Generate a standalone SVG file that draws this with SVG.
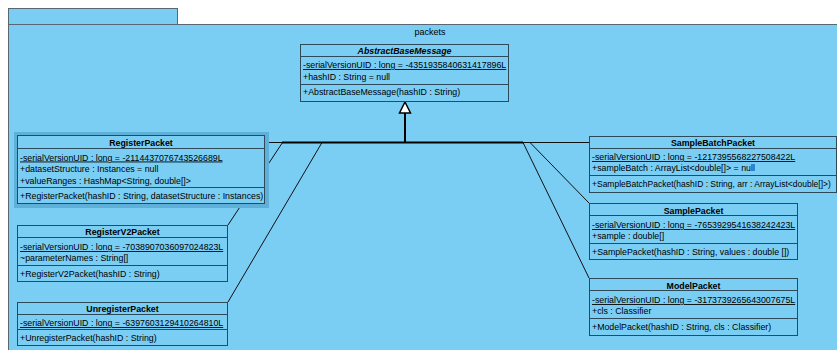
<svg xmlns="http://www.w3.org/2000/svg" width="837" height="350" viewBox="0 0 837 350">
<style>
text{font-family:"Liberation Sans",Arial,sans-serif;font-size:8.8px;fill:#000}
.t{font-weight:bold;text-anchor:middle}
.ti{font-weight:bold;font-style:italic;text-anchor:middle}
.u{text-decoration:underline}
.box{fill:#7acef4;stroke:#2e4a5a;stroke-width:1}
.sep{stroke:#2e4a5a;stroke-width:1}
.pkg{fill:#7acef4;stroke:#5a6670;stroke-width:1}
.thin{stroke:#111;stroke-width:1;fill:none}
.thick{stroke:#000;stroke-width:2;fill:none}
</style>
<g id="package-packets">
<rect class="pkg" x="8.5" y="8.5" width="169" height="16"/>
<rect class="pkg" x="8.5" y="24.5" width="840" height="340"/>
<text x="430" y="35" style="text-anchor:middle;font-size:9px">packets</text>
</g>
<g id="connectors">
<line class="thin" x1="265" y1="142.5" x2="283" y2="142.5"/>
<line class="thin" x1="282.5" y1="142.5" x2="228" y2="225"/>
<line class="thin" x1="322" y1="142.5" x2="228" y2="302"/>
<line class="thin" x1="523" y1="142.5" x2="589" y2="142.5"/>
<line class="thin" x1="530" y1="142.5" x2="589" y2="203"/>
<line class="thin" x1="523" y1="142.5" x2="589" y2="278"/>
<line class="thick" x1="282" y1="142.5" x2="523" y2="142.5"/>
<line class="thick" x1="405" y1="142.5" x2="405" y2="113"/>
<path d="M405,102 L410.5,113 L399.5,113 Z" fill="#fff" stroke="#000" stroke-width="1.5"/>
</g>
<g id="AbstractBaseMessage">
<rect class="box" x="300.5" y="44.5" width="208" height="57"/>
<line class="sep" x1="300.5" y1="56.5" x2="508.5" y2="56.5"/>
<line class="sep" x1="300.5" y1="84.5" x2="508.5" y2="84.5"/>
<text class="ti" x="404.5" y="54">AbstractBaseMessage</text>
<text class="u" x="303" y="68">-serialVersionUID : long = -4351935840631417896L</text>
<text x="303" y="80">+hashID : String = null</text>
<text x="303" y="95">+AbstractBaseMessage(hashID : String)</text>
</g>
<g id="RegisterPacket">
<rect x="14" y="132" width="255" height="76" fill="#5fb0d9"/>
<rect class="box" x="17.5" y="135.5" width="247" height="68"/>
<line class="sep" x1="17.5" y1="148.5" x2="264.5" y2="148.5"/>
<line class="sep" x1="17.5" y1="187.5" x2="264.5" y2="187.5"/>
<text class="t" x="141" y="145.5">RegisterPacket</text>
<text class="u" x="20" y="160.5">-serialVersionUID : long = -2114437076743526689L</text>
<text x="20" y="171.5">+datasetStructure : Instances = null</text>
<text x="20" y="183.5">+valueRanges : HashMap&lt;String, double[]&gt;</text>
<text x="20" y="199">+RegisterPacket(hashID : String, datasetStructure : Instances)</text>
</g>
<g id="RegisterV2Packet">
<rect class="box" x="17.5" y="225.5" width="210" height="56"/>
<line class="sep" x1="17.5" y1="237.5" x2="227.5" y2="237.5"/>
<line class="sep" x1="17.5" y1="265.5" x2="227.5" y2="265.5"/>
<text class="t" x="122.5" y="234.5">RegisterV2Packet</text>
<text class="u" x="20" y="250">-serialVersionUID : long = -7038907036097024823L</text>
<text x="20" y="261">~parameterNames : String[]</text>
<text x="20" y="276.5">+RegisterV2Packet(hashID : String)</text>
</g>
<g id="UnregisterPacket">
<rect class="box" x="17.5" y="302.5" width="210" height="43"/>
<line class="sep" x1="17.5" y1="314.5" x2="227.5" y2="314.5"/>
<line class="sep" x1="17.5" y1="329.5" x2="227.5" y2="329.5"/>
<text class="t" x="122.5" y="311.5">UnregisterPacket</text>
<text class="u" x="20" y="326">-serialVersionUID : long = -6397603129410264810L</text>
<text x="20" y="340.5">+UnregisterPacket(hashID : String)</text>
</g>
<g id="SampleBatchPacket">
<rect class="box" x="589.5" y="136.5" width="247" height="56"/>
<line class="sep" x1="589.5" y1="148.5" x2="836.5" y2="148.5"/>
<line class="sep" x1="589.5" y1="175.5" x2="836.5" y2="175.5"/>
<text class="t" x="713" y="145.5">SampleBatchPacket</text>
<text class="u" x="592" y="160">-serialVersionUID : long = -1217395568227508422L</text>
<text x="592" y="171">+sampleBatch : ArrayList&lt;double[]&gt; = null</text>
<text x="592" y="187" style="font-size:8.5px">+SampleBatchPacket(hashID : String, arr : ArrayList&lt;double[]&gt;)</text>
</g>
<g id="SamplePacket">
<rect class="box" x="589.5" y="203.5" width="208" height="56"/>
<line class="sep" x1="589.5" y1="215.5" x2="797.5" y2="215.5"/>
<line class="sep" x1="589.5" y1="243.5" x2="797.5" y2="243.5"/>
<text class="t" x="693.5" y="213.5">SamplePacket</text>
<text class="u" x="592" y="228">-serialVersionUID : long = -7653929541638242423L</text>
<text x="592" y="239">+sample : double[]</text>
<text x="592" y="254.5">+SamplePacket(hashID : String, values : double [])</text>
</g>
<g id="ModelPacket">
<rect class="box" x="589.5" y="278.5" width="208" height="57"/>
<line class="sep" x1="589.5" y1="290.5" x2="797.5" y2="290.5"/>
<line class="sep" x1="589.5" y1="318.5" x2="797.5" y2="318.5"/>
<text class="t" x="693.5" y="288.5">ModelPacket</text>
<text class="u" x="592" y="303">-serialVersionUID : long = -3173739265643007675L</text>
<text x="592" y="314">+cls : Classifier</text>
<text x="592" y="329.5">+ModelPacket(hashID : String, cls : Classifier)</text>
</g>
</svg>
